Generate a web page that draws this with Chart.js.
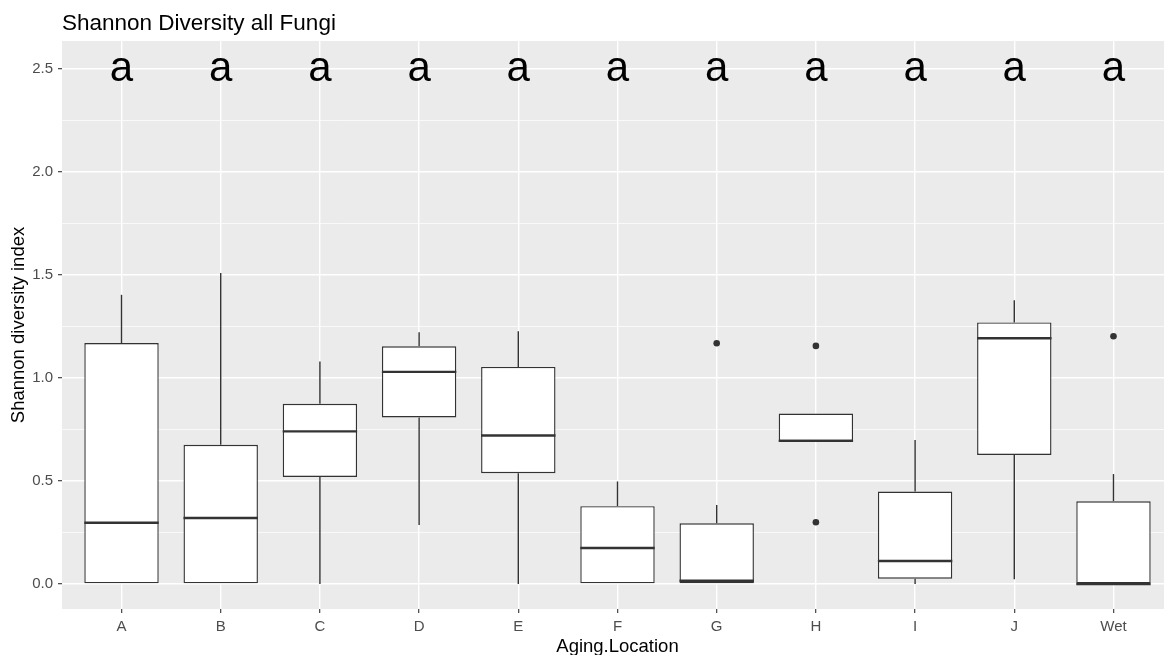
<!DOCTYPE html>
<html>
<head>
  <title>Shannon Diversity all Fungi</title>
  <style>
    body {
      margin: 0;
      background: #ffffff;
      overflow: hidden;
    }
  </style>
</head>
<body>
  <canvas id="boxChart" width="1177" height="655"></canvas>

  <script src="https://cdn.jsdelivr.net/npm/chart.js@4"></script>

  <script>
    // five-number summaries per aging location
    const locations = ['A', 'B', 'C', 'D', 'E', 'F', 'G', 'H', 'I', 'J', 'Wet'];
    const whiskerLow = [0, 0, 0, 0.287, 0, 0, 0, 0.695, 0, 0.024, 0];
    const q1 = [0, 0, 0.52, 0.809, 0.538, 0, 0, 0.695, 0.026, 0.627, 0];
    const medians = [0.298, 0.321, 0.741, 1.03, 0.721, 0.175, 0.016, 0.695, 0.112, 1.193, 0];
    const q3 = [1.17, 0.676, 0.875, 1.154, 1.054, 0.378, 0.295, 0.828, 0.449, 1.27, 0.402];
    const whiskerHigh = [1.404, 1.51, 1.08, 1.222, 1.227, 0.498, 0.384, 0.828, 0.699, 1.378, 0.534];

    // outliers: position on the x axis (1 = A ... 11 = Wet) and value
    const outlierX = [7, 8, 8, 11];
    const outlierY = [1.169, 1.156, 0.30, 1.203];

    // significance letters
    const groupLetters = ['a', 'a', 'a', 'a', 'a', 'a', 'a', 'a', 'a', 'a', 'a'];
    const letterY = 2.5;

    const yTicks = [0, 0.25, 0.5, 0.75, 1, 1.25, 1.5, 1.75, 2, 2.25, 2.5];

    const textFont = "'Liberation Sans', Arial, sans-serif";
    const ink = '#333333';

    const boxData = locations.map((name, i) => ({ x: i + 1, y: [q1[i], q3[i]] }));
    const outlierData = outlierX.map((x, i) => ({ x: x, y: outlierY[i] }));

    const isMajor = v => Math.abs(v * 2 - Math.round(v * 2)) < 1e-6;

    // grey panel behind the plot
    const panelBackground = {
      id: 'panelBackground',
      beforeDraw(chart) {
        const { ctx, chartArea } = chart;
        ctx.save();
        ctx.fillStyle = '#EBEBEB';
        ctx.fillRect(chartArea.left, chartArea.top, chartArea.right - chartArea.left, chartArea.bottom - chartArea.top);
        ctx.restore();
      }
    };

    // whiskers, medians, letters and the plot title
    const boxExtras = {
      id: 'boxExtras',
      afterDatasetsDraw(chart) {
        const { ctx, scales } = chart;
        const x = scales.x;
        const y = scales.y;
        const meta = chart.getDatasetMeta(0);
        ctx.save();
        ctx.strokeStyle = ink;
        ctx.lineCap = 'butt';

        meta.data.forEach((bar, i) => {
          const cx = x.getPixelForValue(i + 1);
          const half = bar.width / 2;
          ctx.lineWidth = 1.4;
          ctx.beginPath();
          if (whiskerHigh[i] > q3[i]) {
            ctx.moveTo(cx, y.getPixelForValue(q3[i]));
            ctx.lineTo(cx, y.getPixelForValue(whiskerHigh[i]));
          }
          if (whiskerLow[i] < q1[i]) {
            ctx.moveTo(cx, y.getPixelForValue(q1[i]));
            ctx.lineTo(cx, y.getPixelForValue(whiskerLow[i]));
          }
          ctx.stroke();

          ctx.lineWidth = 2.4;
          ctx.beginPath();
          const my = y.getPixelForValue(medians[i]);
          ctx.moveTo(cx - half, my);
          ctx.lineTo(cx + half, my);
          ctx.stroke();
        });

        ctx.fillStyle = '#000000';
        ctx.font = '42px ' + textFont;
        ctx.textAlign = 'center';
        ctx.textBaseline = 'middle';
        groupLetters.forEach((letter, i) => {
          ctx.fillText(letter, x.getPixelForValue(i + 1), y.getPixelForValue(letterY));
        });

        ctx.font = '22.5px ' + textFont;
        ctx.textAlign = 'left';
        ctx.textBaseline = 'alphabetic';
        ctx.fillText('Shannon Diversity all Fungi', chart.chartArea.left, 30);
        ctx.restore();
      }
    };

    new Chart(document.getElementById('boxChart'), {
      type: 'bar',
      data: {
        datasets: [{
          label: 'box',
          data: boxData,
          backgroundColor: '#ffffff',
          borderColor: ink,
          borderWidth: 1.4,
          borderSkipped: false,
          barPercentage: 0.75,
          categoryPercentage: 1
        }, {
          type: 'scatter',
          label: 'outliers',
          data: outlierData,
          backgroundColor: ink,
          borderColor: ink,
          pointRadius: 3.3,
          pointBorderWidth: 0
        }]
      },
      options: {
        responsive: false,
        animation: false,
        events: [],
        layout: {
          padding: { top: 41, right: 1, left: 0, bottom: 0 }
        },
        plugins: {
          legend: { display: false },
          title: { display: false },
          tooltip: { enabled: false }
        },
        scales: {
          x: {
            type: 'linear',
            min: 0.4,
            max: 11.6,
            offset: false,
            afterBuildTicks: scale => {
              scale.ticks = locations.map((name, i) => ({ value: i + 1 }));
            },
            afterFit: scale => { scale.height = 46; },
            border: { display: false },
            grid: {
              offset: false,
              color: '#ffffff',
              lineWidth: 1.4,
              tickColor: ink,
              tickLength: 4,
              tickWidth: 1.1
            },
            ticks: {
              autoSkip: false,
              maxRotation: 0,
              padding: 5,
              color: '#4D4D4D',
              font: { family: textFont, size: 15 },
              callback: value => locations[value - 1]
            },
            title: {
              display: true,
              text: 'Aging.Location',
              color: '#000000',
              font: { family: textFont, size: 18.5, lineHeight: 0.9 },
              padding: { top: 0, bottom: 0 }
            }
          },
          y: {
            type: 'linear',
            min: -0.121,
            max: 2.636,
            afterBuildTicks: scale => {
              scale.ticks = yTicks.map(v => ({ value: v }));
            },
            afterFit: scale => { scale.width = 62; },
            border: { display: false },
            grid: {
              color: '#ffffff',
              lineWidth: ctx => isMajor(ctx.tick.value) ? 1.4 : 0.7,
              tickColor: ctx => isMajor(ctx.tick.value) ? ink : 'rgba(0,0,0,0)',
              tickLength: 4,
              tickWidth: 1.1
            },
            ticks: {
              padding: 5,
              color: '#4D4D4D',
              font: { family: textFont, size: 15 },
              callback: value => isMajor(value) ? value.toFixed(1) : ''
            },
            title: {
              display: true,
              text: 'Shannon diversity index',
              color: '#000000',
              font: { family: textFont, size: 18.5, lineHeight: 1 },
              padding: { top: 10, bottom: 0 }
            }
          }
        }
      },
      plugins: [panelBackground, boxExtras]
    });
  </script>
</body>
</html>
